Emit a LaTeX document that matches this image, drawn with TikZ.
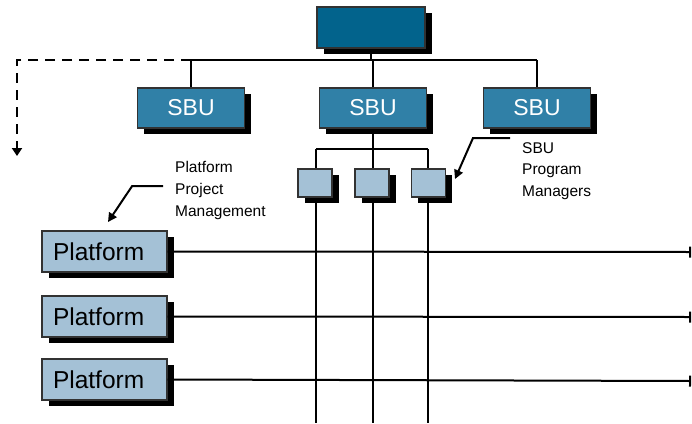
\documentclass[tikz,border=0pt]{standalone}
\usepackage{fontspec}
\setmainfont{Liberation Sans}
\usetikzlibrary{shadows,arrows.meta,backgrounds}
\definecolor{topblue}{RGB}{2,99,140}
\definecolor{sbublue}{RGB}{48,128,167}
\definecolor{lightblue}{RGB}{164,193,214}
\definecolor{edgegrey}{RGB}{50,50,50}
\tikzset{
  boxbase/.style={draw=edgegrey, line width=1.3pt, inner sep=0pt,
    drop shadow={shadow xshift=6.5pt, shadow yshift=-6pt, fill=black, opacity=1}},
  topbox/.style={boxbase, fill=topblue, minimum width=108pt, minimum height=41pt},
  sbubox/.style={boxbase, fill=sbublue, minimum width=107pt, minimum height=40pt,
    text=white, font=\fontsize{23}{26}\selectfont},
  pmbox/.style={boxbase, fill=lightblue, minimum width=34pt, minimum height=28pt},
  platbox/.style={boxbase, fill=lightblue, minimum width=125pt, minimum height=41pt,
    inner xsep=11pt, text width=103pt, align=left,
    font=\fontsize{24.5}{28}\selectfont},
  lbl/.style={inner sep=0pt, align=left, anchor=north west, font=\fontsize{15.5}{21.8}\selectfont},
  conn/.style={line width=2pt, draw=black},
  callout/.style={line width=2pt, -{Triangle[length=9pt, width=9pt]}},
}
\begin{document}
\begin{tikzpicture}[x=1pt, y=-1pt]
\useasboundingbox (0,0) rectangle (692,423);
% nodes
\node[topbox] (top) at (371,27.5) {};
\node[sbubox] (sbu1) at (191,108) {SBU};
\node[sbubox] (sbu2) at (373,108) {SBU};
\node[sbubox] (sbu3) at (537,108) {SBU};
\node[pmbox] (pm1) at (315,183) {};
\node[pmbox] (pm2) at (372,183) {};
\node[pmbox] (pm3) at (428.5,183) {};
\node[platbox] (p1) at (104.5,251.5) {Platform};
\node[platbox] (p2) at (104.5,316.5) {Platform};
\node[platbox] (p3) at (104.5,379.5) {Platform};
\node[lbl] (lab1) at (175,161) {Platform\\Project\\Management};
\node[lbl] (lab2) at (522,142) {SBU\\Program\\Managers};
% coordinates
\coordinate (bus) at (372,60);
\coordinate (dcorner) at (17,60);
\coordinate (dend) at (17,156);
\coordinate (hub) at (373,149);
\coordinate (b1) at (316,423);
\coordinate (b2) at (373,423);
\coordinate (b3) at (428,423);
\coordinate (e1) at (691,252);
\coordinate (e2) at (691,317);
\coordinate (e3) at (691,381);
\coordinate (t1) at (108,222);
\coordinate (t2) at (455,179);
\begin{scope}[on background layer]
\draw[conn] (top.south) -- (top.south |- bus);
\draw[conn] (sbu1.north |- bus) -- (sbu3.north |- bus);
\draw[conn] (sbu1.north |- bus) -- (sbu1.north);
\draw[conn] (sbu2.north |- bus) -- (sbu2.north);
\draw[conn] (sbu3.north |- bus) -- (sbu3.north);
\draw[conn] (sbu2.south) -- (hub);
\draw[conn] (b1 |- hub) -- (b3 |- hub);
\draw[conn] (b1 |- hub) -- (b1);
\draw[conn] (hub) -- (b2);
\draw[conn] (b3 |- hub) -- (b3);
\end{scope}
\draw[conn, dash pattern=on 10pt off 7pt, -{Triangle[length=8pt, width=10pt]}]
  (sbu1.north |- bus) -- (dcorner) -- (dend);
\draw[conn, -{Bar[width=11pt, line width=2pt]}] (p1.east) -- (e1);
\draw[conn, -{Bar[width=11pt, line width=2pt]}] (p2.east) -- (e2);
\draw[conn, -{Bar[width=11pt, line width=2pt]}] (p3.east) -- (e3);
\draw[callout] ([xshift=-12pt, yshift=4pt]lab1.west) -- ++(-31,0) -- (t1);
\draw[callout] ([xshift=-12pt, yshift=4pt]lab2.north west) -- ++(-37,0) -- (t2);
\end{tikzpicture}
\end{document}
